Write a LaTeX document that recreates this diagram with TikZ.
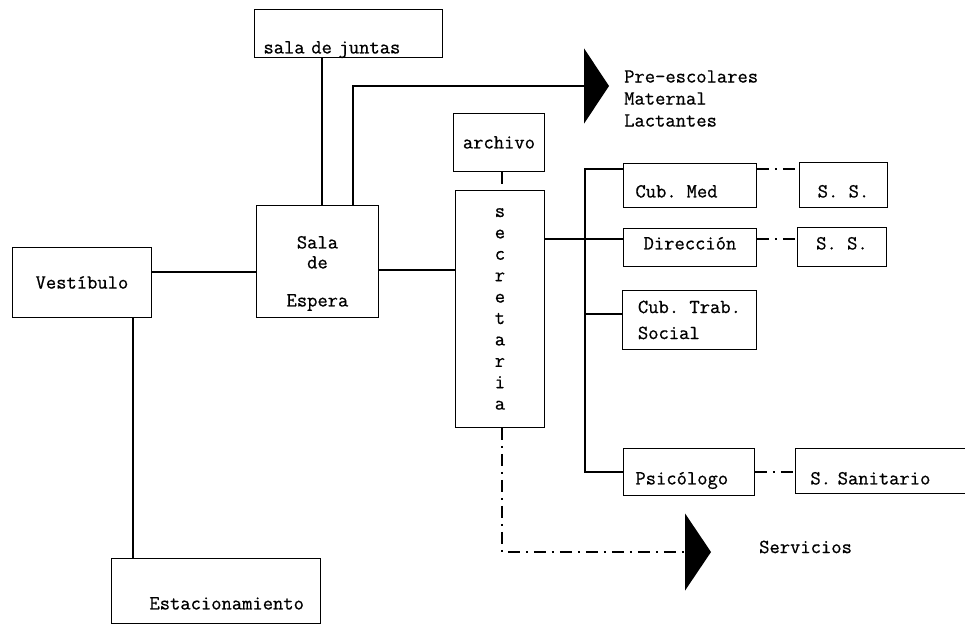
\documentclass[tikz,border=0pt]{standalone}
\usepackage{fontspec}
\setmonofont{Latin Modern Mono}[FakeBold=0.7]
\usepackage{tikz}
\usetikzlibrary{arrows.meta}

\begin{document}
\begin{tikzpicture}[
                x=1pt, y=-1pt,
                room/.style={draw, line width=0.9pt, inner sep=0pt, anchor=north west},
                link/.style={line width=2.4pt},
                dashdot/.style={line width=1.4pt, dash pattern=on 12pt off 6pt on 2pt off 6pt},
                every node/.style={font=\ttfamily\fontsize{20}{21.4}\selectfont}
            ]
                \useasboundingbox (0,0) rectangle (965,624);
                % rooms
                \node[room, text width=170pt, inner xsep=9pt, align=left, text height=44pt, text depth=4pt] (juntas) at (254,9) {sala de juntas};
                \node[room, minimum width=122pt, align=center, text height=101pt, text depth=11pt,
                    font=\ttfamily\fontsize{20}{20}\selectfont] (espera) at (256,205) {Sala\\de\\[18pt]Espera};
                \node[room, minimum width=139pt, minimum height=70pt] (vest) at (12,247) {Vestíbulo};
                \node[room, text width=133pt, inner xsep=38pt, align=left, text height=51pt, text depth=14pt] (estac) at (111,558) {Estacionamiento};
                \node[room, minimum width=91pt, text height=35pt, text depth=23pt] (archivo) at (453,113) {archivo};
                \node[room, minimum width=89pt, minimum height=237pt, align=center] (secret) at (455,190) {s\\e\\c\\r\\e\\t\\a\\r\\i\\a};
                \node[room, text width=109pt, inner xsep=12pt, align=left, text height=34pt, text depth=10pt] (cubmed) at (623,163) {Cub. Med};
                \node[room, minimum width=133pt, text height=21pt, text depth=17pt] (direc) at (623,228) {Dirección};
                \node[room, minimum width=134pt, minimum height=59pt, align=left,
                    font=\ttfamily\fontsize{20}{26}\selectfont] (trab) at (622,290) {Cub. Trab.\\Social};
                \node[room, text width=107pt, inner xsep=12pt, align=left, text height=36pt, text depth=11pt] (psico) at (623,448) {Psicólogo};
                \node[room, minimum width=88pt, text height=35pt, text depth=10pt] (ssA) at (799,162) {S. S.};
                \node[room, minimum width=89pt, text height=22pt, text depth=17pt] (ssB) at (797,227) {S. S.};
                \node[room, text width=170pt, inner xsep=15pt, align=left, text height=36pt, text depth=9pt] (sanit) at (795,448) {S. Sanitario};
                % destinations
                \node[inner sep=0pt, anchor=west, align=left, font=\ttfamily\fontsize{20}{22}\selectfont] (prees) at (624,98.5) {Pre-escolares\\Maternal\\Lactantes};
                \node[inner sep=0pt, anchor=west] (serv) at (759,547) {Servicios};
                \coordinate (tipA) at (609,86);
                \coordinate (tipB) at (711,552);
                \coordinate (bustop) at (585,169);
                \coordinate (busbot) at (585,472);
                % solid connections
                \draw[link] (vest.east |- 0,272) -- (espera.west |- 0,272);
                \draw[link] (vest.south -| 133,0) -- (estac.north -| 133,0);
                \draw[link] (juntas.south -| 322,0) -- (espera.north -| 322,0);
                \draw[link, -{Triangle[length=25pt,width=75pt]}] (espera.north -| 353,0) |- (tipA);
                \draw[link] (espera.east |- 0,270) -- (secret.west |- 0,270);
                \draw[link] (secret.east |- 0,239) -- (direc.west |- 0,239);
                \draw[link] (cubmed.west |- bustop) -- (bustop) -- (busbot) -- (psico.west |- busbot);
                \draw[link] (585,314) -- (trab.west |- 0,314);
                % dash-dot connections
                \draw[dashdot] (archivo.south -| 502,0) -- (secret.north -| 502,0);
                \draw[dashdot] (cubmed.east |- 0,169) -- (ssA.west |- 0,169);
                \draw[dashdot] (direc.east |- 0,239) -- (ssB.west |- 0,239);
                \draw[dashdot] (psico.east |- 0,472) -- (sanit.west |- 0,472);
                \draw[dashdot, -{Triangle[length=26pt,width=77pt]}] (secret.south -| 502,0) |- (tipB);
            \end{tikzpicture}
\end{document}
